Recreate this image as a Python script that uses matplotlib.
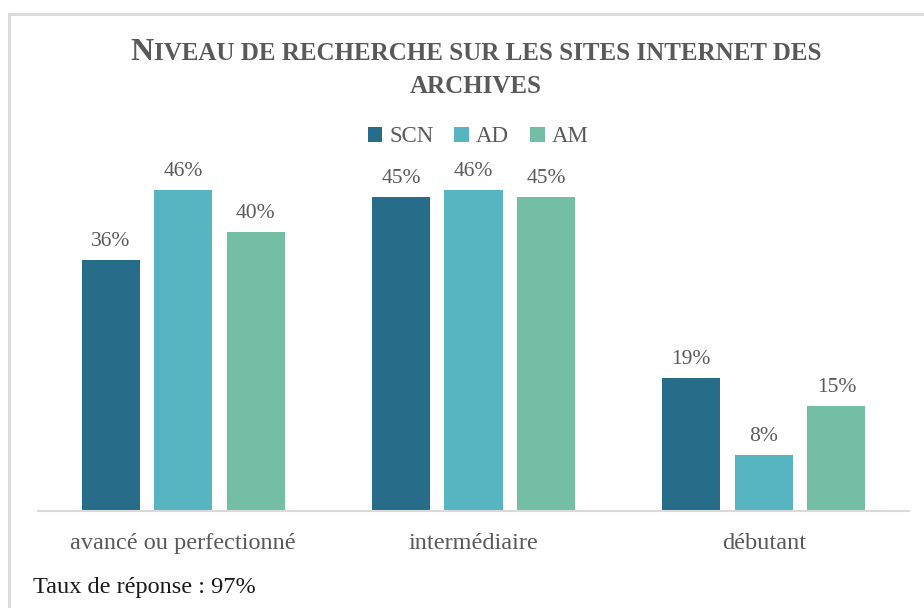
import matplotlib.pyplot as plt
import numpy as np
from matplotlib.offsetbox import TextArea, HPacker, VPacker, AnchoredOffsetbox
from matplotlib.patches import Rectangle

categories = ["avancé ou perfectionné", "intermédiaire", "débutant"]
series = ["SCN", "AD", "AM"]
scn = [36, 45, 19]
ad = [46, 46, 8]
am = [40, 45, 15]
colors = ["#276d89", "#57b5c1", "#74bea6"]

plt.rcParams["font.family"] = ["Liberation Serif", "DejaVu Serif"]
text_col = "#595959"

W, H = 924, 608
fig = plt.figure(figsize=(W / 100, H / 100), dpi=100)

# light frame around the chart
fig.patches.append(Rectangle((9 / W, -0.1), 1.2, 1.1 - 14 / H, transform=fig.transFigure,
                             fill=False, edgecolor="#d9d9d9", linewidth=2))

ax = fig.add_axes([38 / W, 97 / H, 871 / W, 349 / H])
x = np.arange(len(categories))
width = 0.2
step = 0.25
for i, (name, vals) in enumerate(zip(series, [scn, ad, am])):
    pos = x + (i - 1) * step
    ax.bar(pos, vals, width, color=colors[i], label=name)
    for p, v in zip(pos, vals):
        ax.text(p, v + 1.3, f"{v}%", ha="center", va="bottom", fontsize=15.5, color=text_col)

ax.set_xlim(-0.5, 2.5)
ax.set_ylim(0, 50)
ax.set_yticks([])
ax.set_xticks(x)
ax.set_xticklabels(categories, fontsize=17.5, color=text_col)
ax.tick_params(axis="x", length=0, pad=16)
for s in ["top", "right", "left"]:
    ax.spines[s].set_visible(False)
ax.spines["bottom"].set_color("#d9d9d9")
ax.spines["bottom"].set_linewidth(1.5)

leg = fig.legend(loc="center", bbox_to_anchor=(478 / W, 1 - 137 / H), ncol=3, frameon=False,
                 fontsize=16.5, handlelength=0.65, handleheight=0.65, handletextpad=0.3,
                 columnspacing=0.9)
for t in leg.get_texts():
    t.set_color(text_col)

# title in small caps
big = dict(size=23, color=text_col, weight="bold")
small = dict(size=18, color=text_col, weight="bold")
line1 = HPacker(children=[TextArea("N", textprops=big),
                          TextArea("IVEAU DE RECHERCHE SUR LES SITES INTERNET DES", textprops=small)],
                align="baseline", pad=0, sep=0)
line2 = TextArea("ARCHIVES", textprops=small)
title = VPacker(children=[line1, line2], align="center", pad=0, sep=6)
box = AnchoredOffsetbox(loc="upper center", child=title, frameon=False,
                        bbox_to_anchor=(476 / W, 1 - 38 / H), bbox_transform=fig.transFigure,
                        borderpad=0, pad=0)
fig.add_artist(box)

fig.text(33 / W, 1 - 587 / H, "Taux de réponse : 97%", fontsize=17.5, color="#1a1a1a", va="center")

fig.savefig("out.png", dpi=100)
